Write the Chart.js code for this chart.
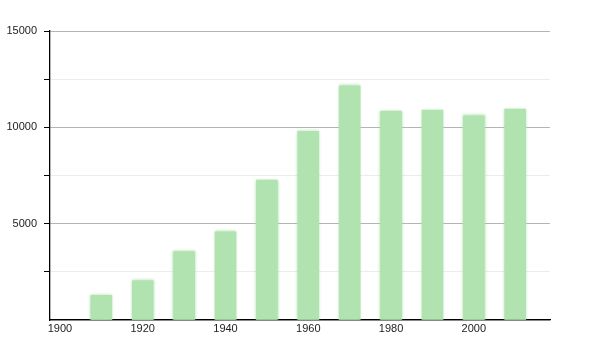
<!DOCTYPE html>
<html>
<head>
<meta charset="utf-8">
<script src="https://cdn.jsdelivr.net/npm/chart.js@4/dist/chart.umd.min.js"></script>
<style>
  html, body { margin: 0; padding: 0; background: #fff; }
</style>
</head>
<body>
<canvas id="chart" width="600" height="350"></canvas>
<script>
// population by census year
var years = [1910, 1920, 1930, 1940, 1950, 1960, 1970, 1980, 1990, 2000, 2010]
var population = [1280, 2040, 3545, 4580, 7265, 9790, 12160, 10846, 10900, 10600, 10950]
var xTickYears = [1900, 1920, 1940, 1960, 1980, 2000]

var barColor = '#b1e3b1'

var softBars = {
    id: 'softBars',
    beforeDatasetsDraw(chart) {
        var ctx = chart.ctx
        ctx.save()
        ctx.shadowColor = 'rgba(160, 220, 160, 0.9)'
        ctx.shadowBlur = 3
    },
    afterDatasetsDraw(chart) {
        chart.ctx.restore()
    }
}

new Chart(document.getElementById('chart').getContext('2d'), {
    type: 'bar',
    data: {
        datasets: [{
            data: years.map((y, i) => ({ x: y, y: population[i] })),
            backgroundColor: barColor,
            borderWidth: 0,
            barThickness: 21
        }]
    },
    options: {
        responsive: false,
        animation: false,
        layout: { padding: { top: 31, right: 50, left: 0, bottom: 0 } },
        plugins: {
            legend: { display: false },
            tooltip: { enabled: false }
        },
        scales: {
            x: {
                type: 'linear',
                min: 1897.6,
                max: 2018.4,
                offset: false,
                afterBuildTicks: function (scale) {
                    scale.ticks = xTickYears.map(v => ({ value: v }))
                },
                afterFit: function (scale) { scale.height = 30 },
                grid: { display: false, drawTicks: false },
                border: { display: true, color: '#000', width: 1.3 },
                ticks: {
                    autoSkip: false,
                    maxRotation: 0,
                    padding: 2,
                    color: '#222',
                    font: { family: 'Liberation Sans', size: 11 },
                    callback: v => String(v)
                }
            },
            y: {
                min: 0,
                max: 15000,
                afterFit: function (scale) { scale.width = 50 },
                grid: {
                    color: ctx => (ctx.tick && ctx.tick.value % 5000 === 0) ? '#b4b4b4' : '#ececec',
                    tickColor: ctx => (ctx.tick && ctx.tick.value === 0) ? 'rgba(0,0,0,0)' : '#000',
                    tickLength: 6,
                    lineWidth: 1
                },
                border: { display: true, color: '#000', width: 1.3 },
                ticks: {
                    stepSize: 2500,
                    padding: 7,
                    color: '#222',
                    font: { family: 'Liberation Sans', size: 11 },
                    callback: v => (v > 0 && v % 5000 === 0) ? String(v) : ''
                }
            }
        }
    },
    plugins: [softBars]
})
</script>
</body>
</html>
